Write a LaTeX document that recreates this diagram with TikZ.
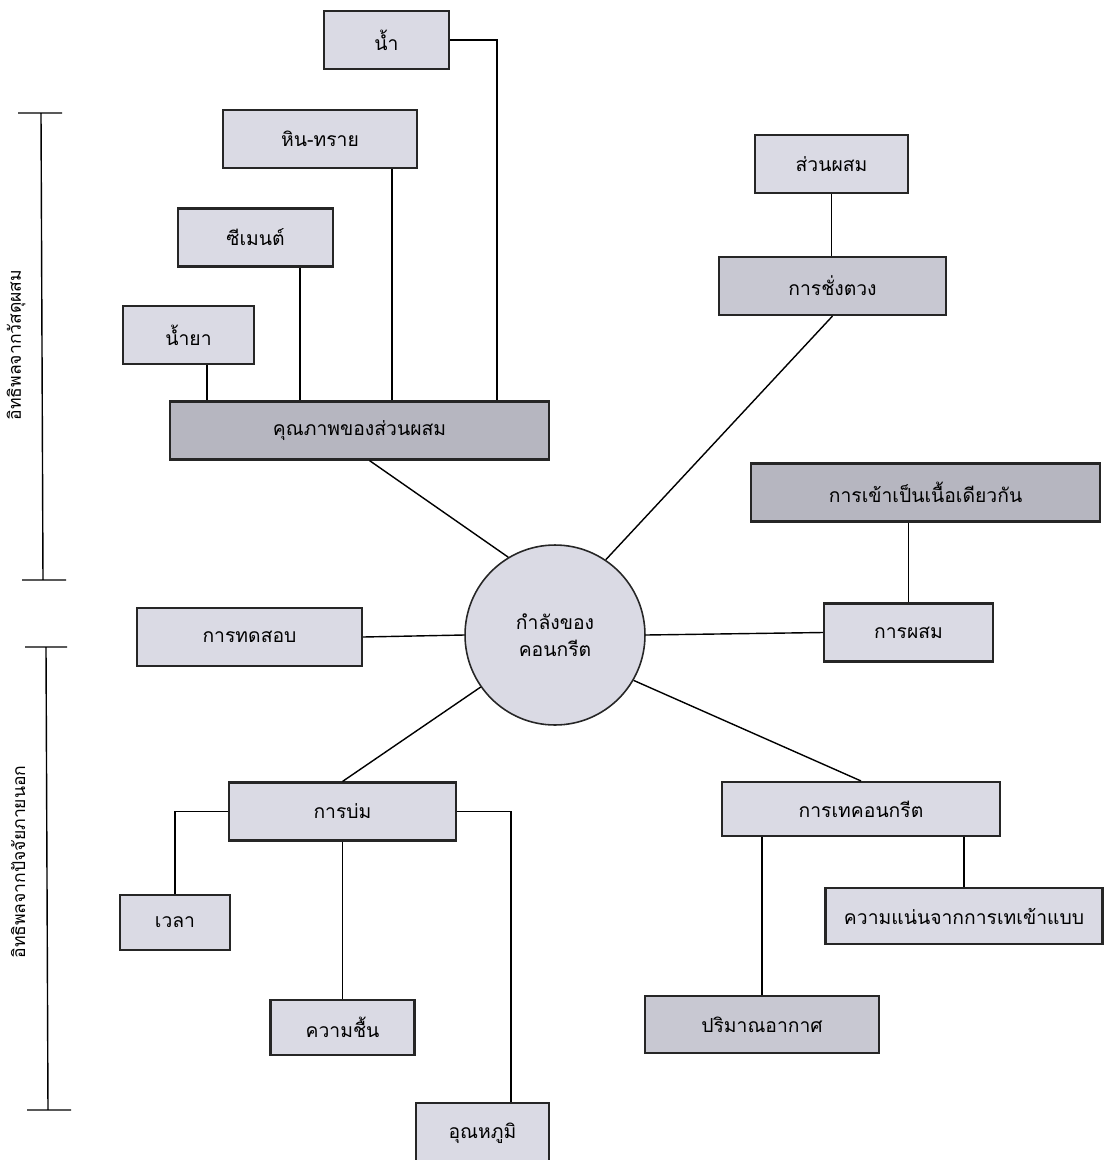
\documentclass[tikz,border=0pt]{standalone}
\usepackage{fontspec}
\newfontfamily\thaifont[Script=Thai]{Loma}
\usetikzlibrary{calc}
\definecolor{boxlight}{RGB}{218,218,228}
\definecolor{boxmid}{RGB}{200,200,210}
\definecolor{boxdark}{RGB}{182,182,192}

\begin{document}
\begin{tikzpicture}
		[x=0.02cm, y=-0.02cm,
		block/.style ={rectangle, draw=black!85, line width=1.2pt, fill=boxlight, inner sep=0pt, minimum height=1.16cm, font=\thaifont\fontsize{11}{13}\selectfont},
		midblock/.style ={block, fill=boxmid},
		darkblock/.style ={block, fill=boxdark},
		hub/.style ={circle, draw=black!85, line width=0.9pt, fill=boxlight, minimum size=3.6cm, align=center, font=\thaifont\fontsize{11}{15}\selectfont},
		side/.style ={rotate=90, font=\thaifont\fontsize{10}{12}\selectfont},
		line/.style ={draw, line width=0.8pt},
		]
		\useasboundingbox (0,0) rectangle (1107,1160);

		% left brackets
		\draw[line] (18,113) -- (62,113) (41,113) -- (43,580) (22,580) -- (66,580);
		\draw[line] (25,647) -- (67,647) (46,647) -- (48,1110) (27,1110) -- (71,1110);
		\draw (16,345) node[side] (L1) {อิทธิพลจากวัสดุผสม};
		\draw (18,862) node[side] (L2) {อิทธิพลจากปัจจัยภายนอก};

		\draw (555,635) node[hub] (STR) {กำลังของ\\คอนกรีต};

		\draw (386.5,40) node[block, minimum width=2.5cm] (NAM) {น้ำ};
		\draw (320,139) node[block, minimum width=3.88cm] (HIN) {หิน-ทราย};
		\draw (255.5,237.5) node[block, minimum width=3.1cm] (CEM) {ซีเมนต์};
		\draw (188.5,335) node[block, minimum width=2.62cm] (YA) {น้ำยา};
		\draw (359.5,430.5) node[darkblock, minimum width=7.58cm] (QUAL) {คุณภาพของส่วนผสม};

		\draw (831.5,164) node[block, minimum width=3.06cm] (SUAN) {ส่วนผสม};
		\draw (832.5,286) node[midblock, minimum width=4.54cm] (CHANG) {การชั่งตวง};
		\draw (925.5,492.5) node[darkblock, minimum width=6.98cm] (HOMO) {การเข้าเป็นเนื้อเดียวกัน};
		\draw (908.5,632.5) node[block, minimum width=3.38cm] (MIX) {การผสม};

		\draw (249.5,637) node[block, minimum width=4.5cm] (TEST) {การทดสอบ};

		\draw (342.5,811.5) node[block, minimum width=4.54cm] (CURE) {การบ่ม};
		\draw (175,922.5) node[block, minimum width=2.2cm, minimum height=1.1cm] (TIME) {เวลา};
		\draw (342.5,1027.5) node[block, minimum width=2.88cm, minimum height=1.1cm] (HUM) {ความชื้น};
		\draw (482.5,1133) node[block, minimum width=2.66cm, minimum height=1.2cm] (TEMP) {อุณหภูมิ};

		\draw (861,809) node[block, minimum width=5.56cm, minimum height=1.08cm] (POUR) {การเทคอนกรีต};
		\draw (964,916) node[block, minimum width=5.54cm, minimum height=1.12cm] (DENS) {ความแน่นจากการเทเข้าแบบ};
		\draw (762,1024.5) node[midblock, minimum width=4.68cm, minimum height=1.14cm] (AIR) {ปริมาณอากาศ};

		% materials
		\draw[line] (NAM.east) -- ++(47,0) coordinate (n1) -- (n1 |- QUAL.north);
		\draw[line] (HIN.south east) ++(-26,0) coordinate (h1) -- (h1 |- QUAL.north);
		\draw[line] (CEM.south east) ++(-34,0) coordinate (c1) -- (c1 |- QUAL.north);
		\draw[line] (YA.south east) ++(-48,0) coordinate (y1) -- (y1 |- QUAL.north);
		\draw[line] (SUAN.south) -- (SUAN.south |- CHANG.north);
		\draw[line] (MIX.north) -- (MIX.north |- HOMO.south);

		\path[line]
		($(QUAL.south)+(10,0)$) edge (STR.121)
		(CHANG.south) edge (STR.56)
		(STR.east) edge (MIX.west)
		(TEST.east) edge (STR.west)
		(CURE.north) edge (STR.215)
		(STR.330) edge (POUR.north);

		% curing and pouring
		\draw[line] (CURE.west) -| (TIME.north);
		\draw[line] (CURE.south) -- (HUM.north);
		\draw[line] (CURE.east) -- ++(54,0) coordinate (t1) -- (t1 |- TEMP.north);
		\draw[line] (DENS.north) -- (DENS.north |- POUR.south);
		\draw[line] (AIR.north) -- (AIR.north |- POUR.south);
	\end{tikzpicture}
\end{document}
